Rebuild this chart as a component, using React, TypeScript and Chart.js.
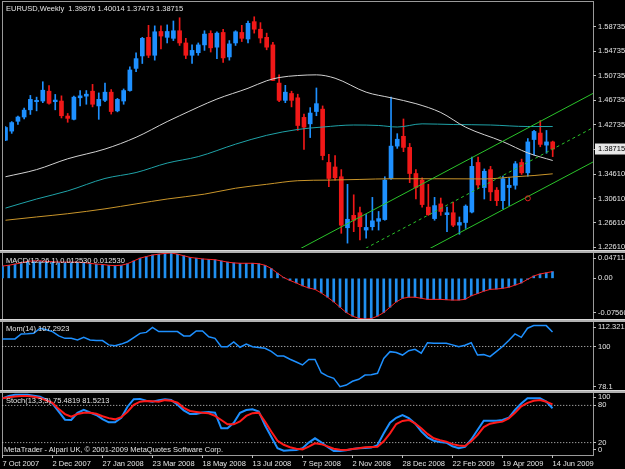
import React, { useEffect, useRef } from 'react';
import { Chart, registerables } from 'chart.js';

Chart.register(...registerables);

const FONT = '"Liberation Sans", Arial, sans-serif';
const FS = 7.5;
const TEXT = '#e4e4e4';
const AXIS = '#bdbdbd';
const UP = '#1e90ff';
const DOWN = '#f01818';
const X_MIN = -0.08;
const X_MAX = 94.48;

// ---- bottom axis (weekly bars, index 0 = 7 Oct 2007) ----
const dateTickIndex = [0, 8, 16, 24, 32, 40, 48, 56, 64, 72, 80, 88];
const dateTickLabels = ['7 Oct 2007', '2 Dec 2007', '27 Jan 2008', '23 Mar 2008', '18 May 2008', '13 Jul 2008', '7 Sep 2008', '2 Nov 2008', '28 Dec 2008', '22 Feb 2009', '19 Apr 2009', '14 Jun 2009'];

// ---- EURUSD weekly OHLC ----
const open = [1.4016,1.4165,1.4326,1.4396,1.4514,1.4647,1.4658,1.4819,1.4647,1.4658,
1.4412,1.4358,1.4711,1.4738,1.4819,1.4578,1.4669,1.4803,1.4497,1.4658,
1.4830,1.5193,1.5397,1.5702,1.5408,1.5798,1.5702,1.5686,1.5810,1.5610,
1.5408,1.5450,1.5578,1.5766,1.5541,1.5782,1.5381,1.5610,1.5782,1.5675,
1.5959,1.5835,1.5702,1.5578,1.4952,1.4669,1.4782,1.4711,1.4390,1.4284,
1.4486,1.4525,1.3651,1.3577,1.3417,1.2581,1.2784,1.2827,1.2543,1.2598,
1.2687,1.2715,1.3389,1.3919,1.4080,1.3898,1.3470,1.3362,1.2919,1.2731,
1.2972,1.2795,1.2827,1.2623,1.2667,1.2838,1.3651,1.3240,1.3534,1.3197,
1.3025,1.3240,1.3277,1.3651,1.3481,1.4027,1.4133,1.3935,1.39876];
const high = [1.4240,1.4321,1.4412,1.4541,1.4750,1.4722,1.4974,1.4910,1.4766,1.4743,
1.4454,1.4738,1.4830,1.4830,1.4931,1.4791,1.4952,1.4846,1.4701,1.4856,
1.5220,1.5450,1.5702,1.5899,1.5890,1.5890,1.5906,1.5970,1.6023,1.5686,
1.5578,1.5610,1.5810,1.5810,1.5793,1.5835,1.5649,1.5810,1.5899,1.5970,
1.6039,1.5943,1.5771,1.5622,1.5087,1.4915,1.4819,1.4770,1.4444,1.4550,
1.4872,1.4578,1.3786,1.3764,1.3534,1.3293,1.3121,1.2919,1.2795,1.3079,
1.2848,1.3417,1.4722,1.4123,1.4364,1.3963,1.3534,1.3401,1.3293,1.3079,
1.3068,1.2919,1.2999,1.2758,1.2956,1.3738,1.3738,1.3545,1.3587,1.3240,
1.3426,1.3401,1.3667,1.3706,1.4043,1.4176,1.4337,1.4176,1.40014];
const low = [1.4008,1.4128,1.4273,1.4364,1.4438,1.4497,1.4631,1.4605,1.4514,1.4380,
1.4310,1.4348,1.4578,1.4605,1.4562,1.4358,1.4647,1.4444,1.4481,1.4605,
1.4819,1.5140,1.5273,1.5370,1.5328,1.5514,1.5610,1.5649,1.5569,1.5353,
1.5273,1.5408,1.5488,1.5461,1.5353,1.5289,1.5328,1.5569,1.5633,1.5610,
1.5771,1.5610,1.5498,1.4990,1.4647,1.4631,1.4562,1.4176,1.3866,1.4059,
1.4417,1.3694,1.3256,1.3362,1.2490,1.2329,1.2517,1.2382,1.2410,1.2543,
1.2543,1.2704,1.3373,1.3882,1.3828,1.3320,1.3052,1.2919,1.2784,1.2704,
1.2784,1.2517,1.2598,1.2474,1.2570,1.2822,1.3229,1.3052,1.3025,1.2944,
1.2891,1.2944,1.3213,1.3454,1.3426,1.3775,1.3908,1.3802,1.37473];
const close = [1.4224,1.4305,1.4396,1.4509,1.4685,1.4669,1.4835,1.4621,1.4674,1.4417,
1.4374,1.4722,1.4743,1.4770,1.4605,1.4685,1.4803,1.4486,1.4685,1.4830,
1.5167,1.5353,1.5686,1.5408,1.5793,1.5723,1.5798,1.5810,1.5610,1.5408,
1.5488,1.5578,1.5755,1.5530,1.5771,1.5365,1.5594,1.5793,1.5686,1.5932,
1.5835,1.5691,1.5541,1.4995,1.4669,1.4803,1.4669,1.4257,1.4229,1.4461,
1.4615,1.3764,1.3389,1.3401,1.2623,1.2720,1.2704,1.2598,1.2586,1.2694,
1.2731,1.3362,1.3919,1.4032,1.3898,1.3470,1.3240,1.2961,1.2795,1.2944,
1.2848,1.2827,1.2623,1.2667,1.2935,1.3587,1.3282,1.3507,1.3169,1.3025,
1.3384,1.3277,1.3630,1.3481,1.3988,1.4160,1.3947,1.3988,1.38715];

// ---- moving averages (read at sampled bars) ----
const whiteMaIdx = [0,5,10,16,21,26,28,34,39,42,44,47,50,53,58,62,66,70,74,80,84,88];
const whiteMaVal = [1.3417,1.3534,1.3711,1.3871,1.4064,1.4321,1.4417,1.4690,1.4867,1.4990,1.5043,1.5076,1.5087,1.5032,1.4803,1.4711,1.4615,1.4470,1.4229,1.3992,1.3807,1.3683];
const tealMaIdx = [0,5,10,16,21,26,31,37,42,47,51,56,60,63,67,72,78,84,88];
const tealMaVal = [1.2903,1.3052,1.3185,1.3389,1.3486,1.3641,1.3747,1.3951,1.4096,1.4192,1.4232,1.4265,1.4257,1.4232,1.4284,1.4273,1.4265,1.4240,1.4240];
const goldMaIdx = [0,5,10,16,21,26,32,37,42,47,52,57,62,69,77,82,85,88];
const goldMaVal = [1.2704,1.2758,1.2811,1.2891,1.2972,1.3052,1.3132,1.3229,1.3293,1.3352,1.3362,1.3373,1.3384,1.3384,1.3381,1.3417,1.3437,1.3465];

// ---- equidistant channel (end points) ----
const channelIdx = [46, 95];
const channelUpper = [1.2162, 1.4811];
const channelMiddle = [1.1600, 1.4249];
const channelLower = [1.1038, 1.3687];
const markerIdx = 84;
const markerVal = 1.3063;

const priceTicks = [1.22610, 1.26610, 1.30610, 1.34610, 1.38715, 1.42735, 1.46735, 1.50735, 1.54735, 1.58735];
const lastPrice = 1.38715;

// ---- MACD(12,26,1) ----
const macdMain = [0.0228,0.0243,0.0265,0.0287,0.0316,0.0324,0.0324,0.0316,0.0309,0.0302,
0.0302,0.0302,0.0302,0.0294,0.0280,0.0265,0.0258,0.0243,0.0236,0.0243,
0.0272,0.0324,0.0375,0.0405,0.0434,0.0449,0.0464,0.0471,0.0449,0.0420,
0.0390,0.0375,0.0361,0.0353,0.0346,0.0324,0.0302,0.0287,0.0280,0.0280,
0.0280,0.0272,0.0243,0.0184,0.0096,0.0015,-0.0040,-0.0086,-0.0139,-0.0179,
-0.0206,-0.0272,-0.0351,-0.0438,-0.0537,-0.0636,-0.0703,-0.0743,-0.0756,-0.0749,
-0.0703,-0.0636,-0.0537,-0.0438,-0.0371,-0.0351,-0.0351,-0.0371,-0.0391,-0.0391,
-0.0391,-0.0398,-0.0404,-0.0404,-0.0391,-0.0325,-0.0285,-0.0239,-0.0206,-0.0199,
-0.0186,-0.0166,-0.0126,-0.0086,-0.0020,0.0044,0.0081,0.0103,0.01253];
const macdSignal = macdMain; // signal period 1: the red line follows the bars
const macdTicks = [-0.0635, 0, 0.0378];
const macdTickLabels = ['-0.07560', '0.00', '0.047113'];

// ---- Momentum(14) ----
const mom = [103.8,103.8,103.8,106.3,106.4,106.6,109.2,108.4,107.5,105.3,
104.1,104.1,103.3,104.6,103.3,103.0,103.0,100.8,100.4,101.2,
102.4,104.5,106.6,107.1,109.6,107.5,107.5,107.5,107.5,105.3,
105.3,107.8,107.8,104.9,104.1,99.9,99.9,102.3,99.6,101.2,
99.9,99.5,99.1,97.5,95.2,95.2,93.6,92.2,90.7,93.5,
93.5,86.8,85.1,84.0,79.8,80.6,82.5,83.5,85.6,85.8,
86.5,94.0,97.4,97.0,95.7,97.9,98.6,96.6,101.9,101.6,
101.6,101.6,100.8,99.9,100.6,101.9,95.7,95.9,94.9,97.4,
100.0,103.0,106.3,104.6,109.2,110.5,110.5,110.5,107.2923];
const momTicks = [79.8, 100, 109.8];
const momTickLabels = ['78.1', '100', '112.321'];

// ---- Stochastic(13,3,3) ----
const stochK = [91.4,95.2,97.0,97.3,97.0,95.5,94.0,89.5,83.0,70.0,
57.0,56.5,68.0,73.0,68.5,64.5,58.0,52.7,52.7,60.0,
77.9,90.0,90.5,87.5,86.0,88.5,89.8,88.7,81.0,72.0,
66.1,66.1,68.5,69.5,68.3,43.0,43.0,52.0,68.0,72.5,
73.7,70.0,48.0,29.6,11.0,7.0,7.5,8.1,11.0,20.0,
26.9,20.5,13.0,6.5,6.5,7.5,9.5,10.8,11.2,12.0,
16.0,35.0,52.0,60.0,64.5,59.5,51.0,38.0,28.5,23.0,
21.0,19.9,14.0,11.0,13.0,25.0,40.3,55.4,55.4,55.4,
56.5,60.0,72.6,83.0,91.4,91.4,91.4,86.0,75.4819];
const stochD = [91.4,93.0,94.5,95.2,95.2,94.0,92.0,88.0,84.0,74.0,
66.0,62.0,66.1,68.0,68.0,66.5,62.5,59.5,57.5,61.0,
69.9,81.0,86.0,87.1,86.5,86.0,88.5,87.5,84.4,76.0,
71.0,69.4,68.0,67.2,63.0,56.5,49.5,49.5,54.0,63.0,
67.5,68.3,53.8,38.0,23.0,16.5,12.5,10.0,9.1,13.5,
18.8,17.5,14.0,10.0,8.5,8.1,9.5,11.0,12.4,13.0,
13.4,22.0,34.9,50.0,55.0,56.5,51.0,43.0,34.0,26.9,
24.0,21.5,17.5,15.5,14.5,22.0,32.3,45.0,50.5,52.5,
53.8,59.1,68.0,78.5,84.0,87.6,88.7,86.0,81.5213];
const stochTicks = [8.1, 20, 80, 93];
const stochTickLabels = ['0', '20', '80', '100'];

// ---------------------------------------------------------------
const pts = (idx: number[], vals: number[]) => idx.map((x, i) => ({ x, y: vals[i] }));
const series = (vals: number[]) => vals.map((y, x) => ({ x, y }));
const level = (v: number) => [{ x: -1, y: v }, { x: 96, y: v }];

const line = (data: any[], color: string, width: number, extra: any = {}) => ({
  type: 'line', data, borderColor: color, borderWidth: width, pointRadius: 0,
  fill: false, tension: 0, ...extra,
});

const hiddenX = { type: 'linear', min: X_MIN, max: X_MAX, display: false, offset: false };

function yScale(min: number, max: number, vals: number[], labels: string[], extra: any = {}) {
  return {
    type: 'linear', position: 'right', min, max, bounds: 'data',
    afterBuildTicks: (s: any) => { s.ticks = vals.map((v) => ({ value: v })); },
    afterFit: (s: any) => { s.width = 32; s.paddingTop = 0; s.paddingBottom = 0; },
    grid: { drawOnChartArea: false, drawTicks: true, tickLength: 3, tickColor: AXIS },
    border: { display: false },
    ticks: {
      autoSkip: false, padding: 2, color: TEXT,
      font: { family: FONT, size: FS },
      callback: (_v: any, i: number) => labels[i],
      ...extra,
    },
  };
}

function baseOptions(padTop: number, padBottom: number, scales: any) {
  return {
    responsive: false, animation: false, events: [],
    layout: { padding: { left: 2, right: 0, top: padTop, bottom: padBottom } },
    plugins: { legend: { display: false }, tooltip: { enabled: false } },
    scales,
  };
}

function mainConfig(): any {
  const colors = open.map((o, i) => (close[i] >= o ? UP : DOWN));
  return {
    type: 'bar',
    data: {
      datasets: [
        { type: 'bar', data: open.map((_o, i) => ({ x: i, y: [low[i], high[i]] })), backgroundColor: colors, barThickness: 1, grouped: false, order: 6 },
        { type: 'bar', data: open.map((o, i) => ({ x: i, y: [Math.min(o, close[i]), Math.max(o, close[i])] })), backgroundColor: colors, barThickness: 4, minBarLength: 1, grouped: false, order: 5 },
        line(pts(whiteMaIdx, whiteMaVal), '#d2d2d2', 1, { order: 3, cubicInterpolationMode: 'monotone' }),
        line(pts(tealMaIdx, tealMaVal), '#1fa3a8', 1, { order: 3, cubicInterpolationMode: 'monotone' }),
        line(pts(goldMaIdx, goldMaVal), '#c9952a', 1, { order: 3, cubicInterpolationMode: 'monotone' }),
        line(pts(channelIdx, channelUpper), '#2ac42a', 1, { order: 2 }),
        line(pts(channelIdx, channelMiddle), '#2ac42a', 1, { order: 2, borderDash: [3, 3] }),
        line(pts(channelIdx, channelLower), '#2ac42a', 1, { order: 2 }),
        { type: 'line', data: [{ x: markerIdx, y: markerVal }], showLine: false, pointRadius: 2.5, pointBorderWidth: 1, pointBorderColor: '#e02020', pointBackgroundColor: 'rgba(0,0,0,0)', order: 1 },
      ],
    },
    options: baseOptions(2, 3, {
      x: hiddenX,
      y: yScale(1.2249, 1.6232, priceTicks, priceTicks.map((v) => v.toFixed(5)), {
        color: (c: any) => (c.tick && c.tick.value === lastPrice ? '#000' : TEXT),
        showLabelBackdrop: (c: any) => !!(c.tick && c.tick.value === lastPrice),
        backdropColor: '#e6e6e6',
        backdropPadding: { top: 1, bottom: 1, left: 3, right: 4 },
      }),
    }),
  };
}

function macdConfig(): any {
  return {
    type: 'bar',
    data: {
      datasets: [
        { type: 'bar', data: series(macdMain), backgroundColor: '#2090f0', barThickness: 2, grouped: false, order: 2 },
        line(series(macdSignal), '#ff2020', 1, { order: 1 }),
      ],
    },
    options: baseOptions(3, 3, { x: hiddenX, y: yScale(-0.0756, 0.047113, macdTicks, macdTickLabels) }),
  };
}

function momConfig(): any {
  return {
    type: 'line',
    data: {
      datasets: [
        line(level(100), '#cfcfcf', 1, { borderDash: [1, 2], order: 2 }),
        line(series(mom), '#1e90ff', 1.5, { order: 1 }),
      ],
    },
    options: baseOptions(3, 3, { x: hiddenX, y: yScale(78.1, 112.321, momTicks, momTickLabels) }),
  };
}

function stochConfig(): any {
  return {
    type: 'line',
    data: {
      datasets: [
        line(level(20), '#cfcfcf', 1, { borderDash: [1, 2], order: 3 }),
        line(level(80), '#cfcfcf', 1, { borderDash: [1, 2], order: 3 }),
        line(series(stochK), '#1e90ff', 2, { order: 2 }),
        line(series(stochD), '#ff1a1a', 2, { order: 1 }),
      ],
    },
    options: baseOptions(3, 0, {
      x: {
        type: 'linear', min: X_MIN, max: X_MAX, position: 'bottom', offset: false,
        afterBuildTicks: (s: any) => { s.ticks = dateTickIndex.map((v) => ({ value: v })); },
        afterFit: (s: any) => { s.height = 14; s.paddingLeft = 0; s.paddingRight = 0; },
        grid: { drawOnChartArea: false, drawTicks: true, tickLength: 3, tickColor: AXIS },
        border: { display: false },
        ticks: {
          align: 'start', maxRotation: 0, minRotation: 0, autoSkip: false, padding: 1,
          color: TEXT, font: { family: FONT, size: FS },
          callback: (_v: any, i: number) => dateTickLabels[i],
        },
      },
      y: yScale(0, 100, stochTicks, stochTickLabels),
    }),
  };
}

const textStyle = (left: number, top: number): React.CSSProperties => ({
  position: 'absolute', left, top, fontSize: FS, lineHeight: '9px', color: TEXT,
  whiteSpace: 'pre', fontFamily: FONT,
});

const sep = (top: number): React.CSSProperties => ({
  position: 'absolute', left: 0, top, width: 625, height: 3, background: '#b0b0b0',
  borderTop: '1px solid #d8d8d8', boxSizing: 'border-box',
});

export default function App() {
  const mainRef = useRef<HTMLCanvasElement>(null);
  const macdRef = useRef<HTMLCanvasElement>(null);
  const momRef = useRef<HTMLCanvasElement>(null);
  const stochRef = useRef<HTMLCanvasElement>(null);

  useEffect(() => {
    const charts = [
      new Chart(mainRef.current as HTMLCanvasElement, mainConfig()),
      new Chart(macdRef.current as HTMLCanvasElement, macdConfig()),
      new Chart(momRef.current as HTMLCanvasElement, momConfig()),
      new Chart(stochRef.current as HTMLCanvasElement, stochConfig()),
    ];
    return () => charts.forEach((c) => c.destroy());
  }, []);

  const cv = (top: number): React.CSSProperties => ({ position: 'absolute', left: 0, top, display: 'block' });

  return (
    <div style={{ position: 'absolute', left: 0, top: 0, width: 625, height: 469, background: '#000', overflow: 'hidden' }}>
      <div style={{ position: 'absolute', left: 2, top: 1, width: 592, height: 455, border: '1px solid #9a9a9a', boxSizing: 'border-box' }} />
      <div style={sep(250)} />
      <div style={sep(319)} />
      <div style={sep(390)} />
      <canvas ref={mainRef} width={625} height={253} style={cv(0)} />
      <canvas ref={macdRef} width={625} height={72} style={cv(250)} />
      <canvas ref={momRef} width={625} height={74} style={cv(319)} />
      <canvas ref={stochRef} width={625} height={79} style={cv(390)} />
      <div style={textStyle(6, 3.5)}>{'EURUSD,Weekly  1.39876 1.40014 1.37473 1.38715'}</div>
      <div style={textStyle(6, 256)}>{'MACD(12,26,1) 0.012530 0.012530'}</div>
      <div style={textStyle(6, 323.5)}>{'Mom(14) 107.2923'}</div>
      <div style={textStyle(6, 396)}>{'Stoch(13,3,3) 75.4819 81.5213'}</div>
      <div style={textStyle(4, 444.5)}>{'MetaTrader - Alpari UK, \u00a9 2001-2009 MetaQuotes Software Corp.'}</div>
    </div>
  );
}
